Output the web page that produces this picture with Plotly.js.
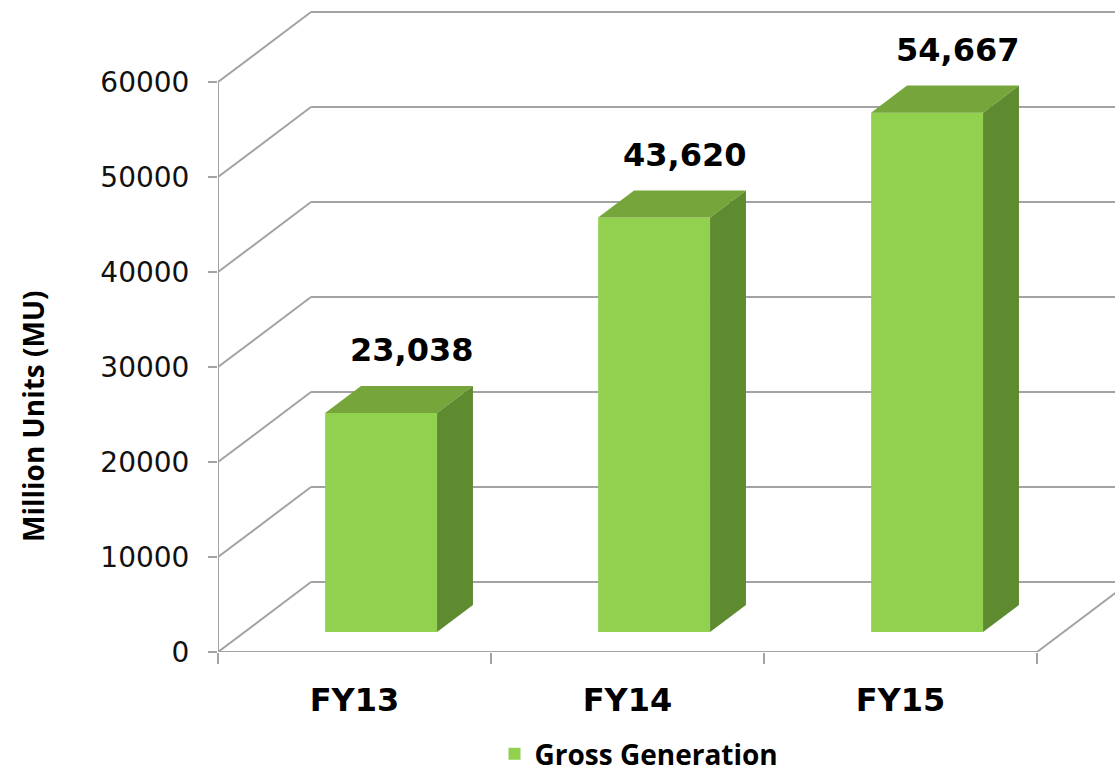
<!DOCTYPE html>
<html>
<head>
<meta charset="utf-8">
<script src="https://cdn.plot.ly/plotly-3.0.1.min.js"></script>
<style>html,body{margin:0;padding:0;background:#fff;}#chart{width:1115px;height:779px;}</style>
</head>
<body>
<div id="chart"></div>
<script>
// ---- data ----
const categories = ['FY13', 'FY14', 'FY15'];
const values = [23038, 43620, 54667];
const valueLabels = ['23,038', '43,620', '54,667'];
const yTicks = [0, 10000, 20000, 30000, 40000, 50000, 60000];
const seriesName = 'Gross Generation';
const yTitle = 'Million Units (MU)';

// ---- pseudo-3D geometry (style constants) ----
const UPP = 60000 / 570;          // value units per pixel
const Y_MAX = 652 * UPP;
const X_MAX = 897 / 273;
const DX = 93 / 273;              // full depth offset in x (category units)
const DY = 70 * UPP;              // full depth offset in y (value units)
const F1 = 0.286, F2 = 0.672;     // bar depth fractions (front, back)
const W = 0.41;                   // bar width (category units)
const GRID = '#A3A3A3';
const FRONT = '#92D050', TOP = '#76A53B', SIDE = '#5E8A30';
const FONT = 'Open Sans, Noto Sans, sans-serif';
const BOLDFONT = 'DejaVu Sans, sans-serif';

const n = categories.length;
const centers = categories.map((c, i) => i + 0.5);

const shapes = [];
const line = (x0, y0, x1, y1) => shapes.push({type: 'line', xref: 'x', yref: 'y', x0, y0, x1, y1, layer: 'below', line: {color: GRID, width: 2}});
// gridlines: diagonal side wall + back wall
yTicks.forEach(t => {
  line(0, t, DX, t + DY);
  line(DX, t + DY, X_MAX + 0.2, t + DY);
});
// front floor edge, right floor edge, left vertical axis
line(0, 0, n, 0);
line(n, 0, n + DX, DY);
line(0, 0, 0, yTicks[yTicks.length - 1]);

const traces = [];
// front faces as a real bar trace
traces.push({
  type: 'bar', name: seriesName,
  x: centers.map(c => c + F1 * DX),
  y: values,
  base: values.map(() => F1 * DY),
  width: W,
  marker: {color: FRONT, line: {width: 0}},
  hoverinfo: 'skip',
  showlegend: true
});
// top and side faces
values.forEach((v, i) => {
  const xl1 = centers[i] - W / 2 + F1 * DX, xr1 = centers[i] + W / 2 + F1 * DX;
  const xl2 = centers[i] - W / 2 + F2 * DX, xr2 = centers[i] + W / 2 + F2 * DX;
  const y1 = F1 * DY, y2 = F2 * DY;
  traces.push({
    type: 'scatter', mode: 'lines', fill: 'toself', fillcolor: TOP, line: {width: 0, color: TOP},
    x: [xl1, xr1, xr2, xl2, xl1], y: [v + y1, v + y1, v + y2, v + y2, v + y1],
    showlegend: false, hoverinfo: 'skip'
  });
  traces.push({
    type: 'scatter', mode: 'lines', fill: 'toself', fillcolor: SIDE, line: {width: 0, color: SIDE},
    x: [xr1, xr1, xr2, xr2, xr1], y: [y1, v + y1, v + y2, y2, y1],
    showlegend: false, hoverinfo: 'skip'
  });
});
// category labels on overlay axis
traces.push({type: 'scatter', x: centers, y: values.map(() => null), xaxis: 'x2', showlegend: false, hoverinfo: 'skip'});

const annotations = values.map((v, i) => ({
  x: centers[i] + F1 * DX + 0.11, y: v + F2 * DY, xref: 'x', yref: 'y',
  text: '<b>' + valueLabels[i] + '</b>', showarrow: false,
  yanchor: 'middle', yshift: 36,
  font: {family: BOLDFONT, size: 32, color: '#000'}
}));
annotations.push({
  xref: 'paper', yref: 'paper', x: (33 - 218) / 897, y: (652 - 416) / 652,
  xanchor: 'center', yanchor: 'middle', textangle: -90, showarrow: false,
  text: '<b>' + yTitle + '</b>', font: {family: FONT, size: 28, color: '#000'}
});

const layout = {
  width: 1115, height: 779,
  margin: {l: 218, r: 0, t: 0, b: 127},
  paper_bgcolor: '#fff', plot_bgcolor: 'rgba(0,0,0,0)',
  showlegend: true,
  legend: {orientation: 'h', x: 639 / 1115, xanchor: 'center', xref: 'container', y: 0, yref: 'container', yanchor: 'bottom',
           font: {family: FONT, size: 28, color: '#000', weight: 'bold'}, itemwidth: 30},
  xaxis: {range: [0, X_MAX], tickvals: [0, 1, 2, 3], ticktext: ['', '', '', ''], ticks: 'outside', ticklen: 11, tickwidth: 2,
          tickcolor: GRID, showgrid: false, zeroline: false, showline: false, fixedrange: true},
  xaxis2: {range: [0, X_MAX], overlaying: 'x', anchor: 'y', side: 'bottom', tickvals: centers, ticktext: categories,
           ticks: '', ticklabelstandoff: 26, showgrid: false, zeroline: false, showline: false,
           tickfont: {family: BOLDFONT, size: 32, color: '#000', weight: 'bold'}},
  yaxis: {range: [0, Y_MAX], tickvals: yTicks, ticktext: yTicks.map(String), ticks: 'outside', ticklen: 9, tickwidth: 2,
          tickcolor: GRID, showgrid: false, zeroline: false, showline: false, ticklabelstandoff: 13,
          tickfont: {family: 'DejaVu Sans, sans-serif', size: 28, color: '#111'}},
  shapes, annotations
};

Plotly.newPlot('chart', traces, layout, {displayModeBar: false, staticPlot: true});
</script>
</body>
</html>
